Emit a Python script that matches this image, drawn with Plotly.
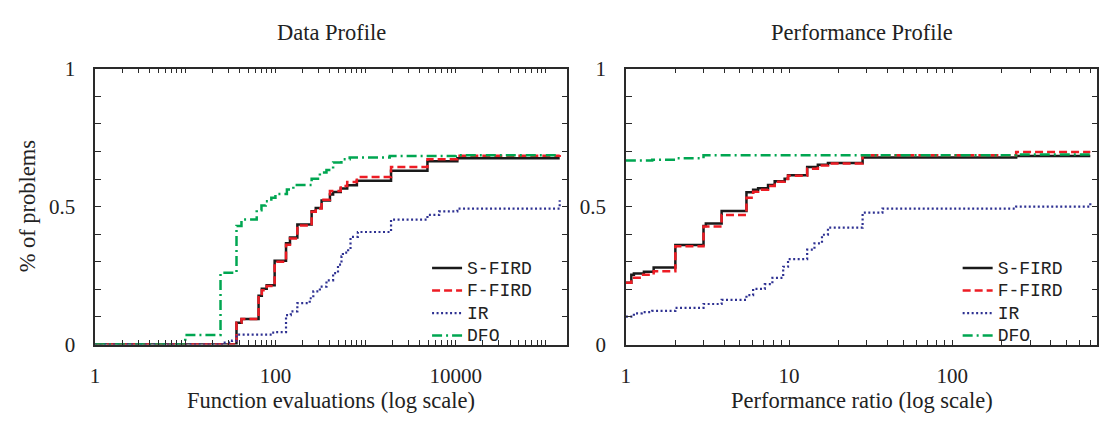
import plotly.graph_objects as go

# ---------------- Data profile (left) ----------------
dp_sfird_x = [1, 37, 42, 65, 70.6, 80, 98, 131, 145, 175, 252, 280, 325, 402, 436, 530, 625, 800, 1914, 4850, 10400, 142000]
dp_sfird_y = [0, 0.079, 0.093, 0.177, 0.202, 0.215, 0.304, 0.367, 0.388, 0.435, 0.483, 0.495, 0.522, 0.544, 0.553, 0.566, 0.577, 0.594, 0.630, 0.664, 0.675, 0.675]

dp_ffird_x = [1, 37, 42, 65, 70.6, 80, 98, 131, 145, 175, 252, 280, 325, 402, 530, 625, 800, 1914, 4850, 10400, 142000]
dp_ffird_y = [0, 0.079, 0.093, 0.177, 0.197, 0.212, 0.300, 0.362, 0.384, 0.432, 0.481, 0.493, 0.525, 0.557, 0.575, 0.589, 0.607, 0.644, 0.672, 0.684, 0.687]

dp_ir_x = [1, 25.5, 33, 37, 91, 99, 131, 148, 175, 240, 263, 311, 368, 436, 494, 540, 560, 640, 680, 820, 1914, 4850, 6540, 10400, 142000]
dp_ir_y = [0, 0.007, 0.014, 0.036, 0.043, 0.045, 0.107, 0.120, 0.150, 0.168, 0.193, 0.210, 0.233, 0.259, 0.290, 0.320, 0.333, 0.350, 0.390, 0.408, 0.453, 0.470, 0.483, 0.493, 0.523]

dp_dfo_x = [1, 10, 24.6, 37, 42, 62, 70, 78, 90, 100, 134, 158, 252, 311, 368, 436, 539, 666, 1850, 10000, 142000]
dp_dfo_y = [0, 0.035, 0.26, 0.43, 0.453, 0.487, 0.504, 0.519, 0.532, 0.546, 0.562, 0.578, 0.601, 0.624, 0.633, 0.660, 0.672, 0.678, 0.683, 0.686, 0.686]

# ---------------- Performance profile (right) ----------------
pp_sfird_x = [1, 1.08, 1.12, 1.29, 1.48, 2.01, 2.99, 3.09, 3.86, 5.48, 6.02, 6.46, 7.43, 8.16, 9.39, 9.85, 12.9, 15.0, 17.3, 28.2, 246, 700]
pp_sfird_y = [0.224, 0.253, 0.258, 0.264, 0.279, 0.361, 0.430, 0.439, 0.484, 0.552, 0.561, 0.567, 0.578, 0.592, 0.601, 0.614, 0.644, 0.652, 0.658, 0.678, 0.683, 0.683]

pp_ffird_x = [1, 1.08, 1.25, 1.48, 2.01, 2.99, 3.86, 5.48, 6.02, 6.46, 7.43, 8.16, 9.39, 9.85, 12.9, 15.0, 17.3, 28.2, 246, 700]
pp_ffird_y = [0.224, 0.242, 0.253, 0.266, 0.356, 0.428, 0.470, 0.532, 0.554, 0.561, 0.575, 0.590, 0.600, 0.612, 0.637, 0.649, 0.656, 0.686, 0.698, 0.698]

pp_ir_x = [1, 1.12, 1.25, 1.45, 2.01, 2.99, 3.86, 5.48, 6.02, 7.1, 7.9, 9.2, 9.85, 12.9, 14.3, 15.9, 17.3, 28.2, 37.3, 246, 700]
pp_ir_y = [0.101, 0.113, 0.118, 0.122, 0.133, 0.147, 0.162, 0.179, 0.202, 0.219, 0.242, 0.282, 0.310, 0.344, 0.367, 0.398, 0.424, 0.478, 0.493, 0.500, 0.515]

pp_dfo_x = [1, 1.45, 2.01, 2.99, 246, 700]
pp_dfo_y = [0.667, 0.670, 0.675, 0.686, 0.689, 0.689]

series_names = ["S-FIRD", "F-FIRD", "IR", "DFO"]
dp_tick_vals = [1, 100, 10000]
dp_tick_text = ["1", "100", "10000"]
pp_tick_vals = [1, 10, 100]
pp_tick_text = ["1", "10", "100"]

W, H = 1099, 429
styles = [
    dict(color="#1a1a1a", width=2.5, dash="solid"),
    dict(color="#ed1c24", width=2.5, dash="8px,4px"),
    dict(color="#2e3192", width=2.2, dash="2px,2.5px"),
    dict(color="#00a651", width=2.5, dash="10px,4px,2px,4px"),
]

fig = go.Figure()

def add_panel(xs, ys, xaxis, yaxis, legend):
    for name, x, y, st in zip(series_names, xs, ys, styles):
        fig.add_trace(go.Scatter(
            x=x, y=y, mode="lines", name="<span style='font-size:18px'>" + name + "</span>",
            line_shape="hv",
            line=dict(color=st["color"], width=st["width"], dash=st["dash"]),
            xaxis=xaxis, yaxis=yaxis, legend=legend, showlegend=True,
        ))

add_panel([dp_sfird_x, dp_ffird_x, dp_ir_x, dp_dfo_x],
          [dp_sfird_y, dp_ffird_y, dp_ir_y, dp_dfo_y], "x", "y", "legend")
add_panel([pp_sfird_x, pp_ffird_x, pp_ir_x, pp_dfo_x],
          [pp_sfird_y, pp_ffird_y, pp_ir_y, pp_dfo_y], "x2", "y2", "legend2")

def minor_vals(lo_dec, hi_dec):
    v = []
    for d in range(lo_dec, hi_dec + 1):
        for m in range(1, 10):
            v.append(m * 10 ** d)
    return v

def px_x(p):
    return p / W

def px_y(p):
    return 1 - p / H

serif = "'Liberation Serif', 'Times New Roman', serif"
mono = "'Liberation Mono', 'DejaVu Sans Mono', monospace"
axcol = "#2a2a2a"
txtcol = "#222222"

common_x = dict(type="log", showgrid=False, zeroline=False, showline=True, linecolor=axcol,
                linewidth=1.5, mirror="ticks", ticks="inside", ticklen=5, tickwidth=1,
                tickcolor=axcol, tickfont=dict(family=serif, size=21, color=txtcol),
                ticklabelstandoff=11)
common_y = dict(range=[0, 1], showgrid=False, zeroline=False, showline=True, linecolor=axcol,
                linewidth=1.5, mirror="ticks", ticks="inside", ticklen=6, tickwidth=1,
                tickcolor=axcol, tickvals=[i / 10 for i in range(11)],
                ticktext=["0", "", "", "", "", "0.5", "", "", "", "", "1"],
                tickfont=dict(family=serif, size=21, color=txtcol), ticklabelstandoff=14)

dp_vals = minor_vals(0, 5)
dp_text = [dp_tick_text[dp_tick_vals.index(v)] if v in dp_tick_vals else "" for v in dp_vals]
pp_vals = minor_vals(0, 2)
pp_text = [pp_tick_text[pp_tick_vals.index(v)] if v in pp_tick_vals else "" for v in pp_vals]

leg_common = dict(xanchor="left", yanchor="top", bgcolor="rgba(0,0,0,0)",
                  font=dict(family=mono, size=15, color=txtcol), tracegroupgap=0, itemwidth=30)

fig.update_layout(
    width=W, height=H, margin=dict(l=0, r=0, t=0, b=0),
    paper_bgcolor="white", plot_bgcolor="white",
    xaxis=dict(common_x, domain=[px_x(90.5), px_x(565)], range=[0, 5.238],
               tickvals=dp_vals, ticktext=dp_text, anchor="y"),
    yaxis=dict(common_y, domain=[px_y(352.3), px_y(60)], anchor="x"),
    xaxis2=dict(common_x, domain=[px_x(623.7), px_x(1097.3)], range=[0, 2.888],
                tickvals=pp_vals, ticktext=pp_text, anchor="y2"),
    yaxis2=dict(common_y, domain=[px_y(352.3), px_y(60)], anchor="x2"),
    legend=dict(leg_common, x=px_x(424), y=px_y(254)),
    legend2=dict(leg_common, x=px_x(957), y=px_y(254)),
    showlegend=True,
)

title_font = dict(family=serif, size=22.5, color=txtcol)
annotations = [
    dict(text="Data Profile", x=px_x(327.7), y=px_y(22)),
    dict(text="Performance Profile", x=px_x(860.5), y=px_y(22)),
    dict(text="Function evaluations (log scale)", x=px_x(327.7), y=px_y(412)),
    dict(text="Performance ratio (log scale)", x=px_x(860.5), y=px_y(412)),
    dict(text="% of problems", x=px_x(23), y=px_y(206), textangle=-90),
]
for a in annotations:
    a.update(xref="paper", yref="paper", showarrow=False, xanchor="center",
             yanchor="middle", font=title_font)
fig.update_layout(annotations=annotations)

fig.write_html("out.html")
